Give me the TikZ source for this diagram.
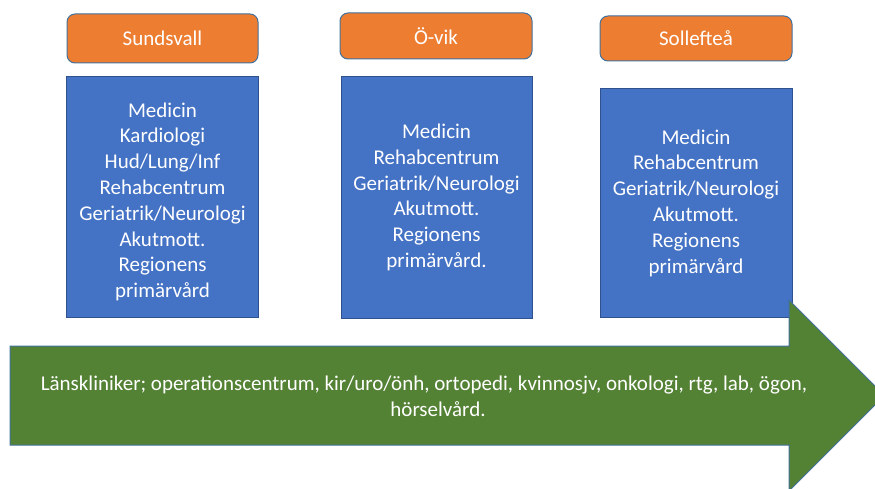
\documentclass[tikz,border=0pt]{standalone}
\usepackage{fontspec}
\setmainfont{Carlito}
\definecolor{hdrfill}{HTML}{ED7D31}
\definecolor{boxfill}{HTML}{4472C4}
\definecolor{arrowfill}{HTML}{548235}
\definecolor{edge}{HTML}{41719C}
\definecolor{boxedge}{HTML}{2F528F}
\begin{document}
\begin{tikzpicture}[x=1pt,y=-1pt,
  hdr/.style={draw=edge, line width=1pt, fill=hdrfill, rounded corners=8pt,
    text=white, font=\fontsize{21}{25.8}\selectfont, inner sep=0pt},
  unit/.style={draw=boxedge, line width=1pt, fill=boxfill, text=white,
    align=center, font=\fontsize{21}{25.8}\selectfont, inner sep=0pt},
  band/.style={draw=edge, line width=1pt, fill=arrowfill},
  bandtext/.style={text=white, align=center, font=\fontsize{21}{26.5}\selectfont, inner sep=0pt}]
\useasboundingbox (0,0) rectangle (875,489);
\clip (0,0) rectangle (875,489);

% site headers
\node[hdr, minimum width=191pt, minimum height=49pt] (sund) at (162.5,38.5) {Sundsvall};
\node[hdr, minimum width=192pt, minimum height=46pt] (ovik) at (436,36) {Ö-vik};
\node[hdr, minimum width=192pt, minimum height=45pt] (soll) at (696,38.5) {Sollefteå};

% services at each site
\node[unit, minimum width=192pt, minimum height=240pt] (sundu) at (162.5,197)
  {\rule{0pt}{24pt}Medicin\\Kardiologi\\Hud/Lung/Inf\\Rehabcentrum\\Geriatrik/Neurologi\\Akutmott.\\Regionens\\primärvård};
\node[unit, minimum width=191pt, minimum height=241pt] (oviku) at (436.5,197.5)
  {Medicin\\Rehabcentrum\\Geriatrik/Neurologi\\Akutmott.\\Regionens\\primärvård.};
\node[unit, minimum width=192pt, minimum height=228pt] (sollu) at (696,203)
  {Medicin\\Rehabcentrum\\Geriatrik/Neurologi\\Akutmott.\\Regionens\\primärvård};

% county-wide clinics arrow
\draw[band] (10,346) -- (789,346) -- (789,300) -- (884.5,395.5)
  -- (789,491) -- (789,445) -- (10,445) -- cycle;
\node[bandtext] (county) at (424,396.5)
  {Länskliniker; operationscentrum, kir/uro/önh, ortopedi, kvinnosjv, onkologi, rtg, lab, ögon,\\\hspace*{28pt}hörselvård.};
\end{tikzpicture}
\end{document}
